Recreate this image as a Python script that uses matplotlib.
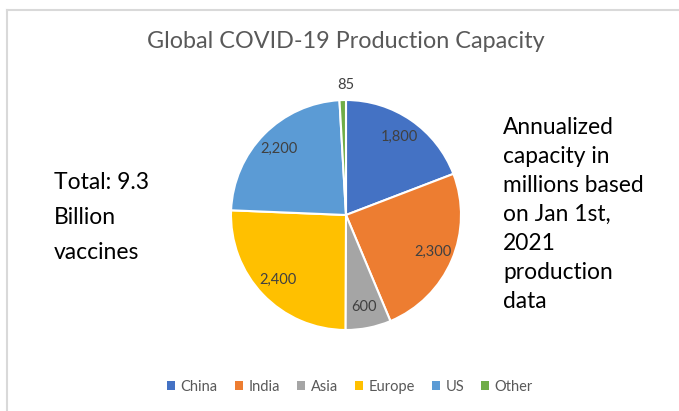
import matplotlib
matplotlib.use("Agg")
import matplotlib.pyplot as plt
from matplotlib.lines import Line2D
from matplotlib.patches import Patch
import numpy as np

categories = ["China", "India", "Asia", "Europe", "US", "Other"]
values = [1800, 2300, 600, 2400, 2200, 85]
value_labels = ["1,800", "2,300", "600", "2,400", "2,200", "85"]
colors = ["#4472C4", "#ED7D31", "#A5A5A5", "#FFC000", "#5B9BD5", "#70AD47"]

title = "Global COVID-19 Production Capacity"
left_note = "Total: 9.3\nBillion\nvaccines"
right_note = "Annualized\ncapacity in\nmillions based\non Jan 1st,\n2021\nproduction\ndata"

plt.rcParams['font.family'] = ['Lato', 'DejaVu Sans']

W, H = 679, 411
fig = plt.figure(figsize=(W / 100, H / 100), dpi=100)
fig.patch.set_facecolor("white")

# frame lines (top and left)
fig.add_artist(Line2D([7 / W, 1], [1 - 10 / H, 1 - 10 / H], color="#d9d9d9", lw=1.5))
fig.add_artist(Line2D([7 / W, 7 / W], [0, 1 - 10 / H], color="#d9d9d9", lw=1.5))

cx, cy, r = 346, 215, 115
ax = fig.add_axes([(cx - r) / W, (H - cy - r) / H, 2 * r / W, 2 * r / H])
wedges, texts = ax.pie(values, colors=colors, startangle=90, counterclock=False,
                       wedgeprops=dict(edgecolor="white", linewidth=1.5))
ax.set_xlim(-1, 1)
ax.set_ylim(-1, 1)
ax.set_aspect("equal")
ax.axis("off")

for w, lab, v in zip(wedges, value_labels, values):
    mid = np.deg2rad((w.theta1 + w.theta2) / 2)
    if v < 300:
        ax.text(0, 1.13, lab, ha="center", va="center", fontsize=10.5, color="#404040")
    else:
        d = 0.82
        ax.text(d * np.cos(mid), d * np.sin(mid), lab, ha="center", va="center",
                fontsize=10.5, color="#404040")

fig.text(cx / W, 1 - 42 / H, title, ha="center", va="center", fontsize=16.8, color="#595959")

fig.text(54 / W, 1 - 172 / H, left_note, ha="left", va="top", fontsize=16.5,
         color="black", linespacing=1.82)
fig.text(503 / W, 1 - 117 / H, right_note, ha="left", va="top", fontsize=16.4,
         color="black", linespacing=1.475)

handles = [Patch(facecolor=c, edgecolor="none") for c in colors]
leg = fig.legend(handles, categories, loc="center", bbox_to_anchor=(350 / W, 1 - 387 / H),
                 ncol=6, frameon=False, fontsize=10.5, handlelength=0.55, handleheight=0.55,
                 handletextpad=0.4, columnspacing=1.15)
for t in leg.get_texts():
    t.set_color("#595959")

fig.savefig("out.png", dpi=100, facecolor="white")
